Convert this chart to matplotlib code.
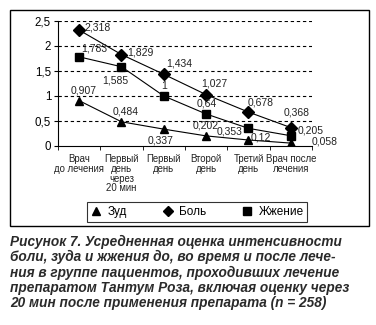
import matplotlib.pyplot as plt
from matplotlib.lines import Line2D
from matplotlib.patches import Rectangle

# timepoints of assessment
stages = ["Врач\nдо лечения", "Первый\nдень\nчерез\n20 мин", "Первый\nдень",
          "Второй\nдень", "Третий\nдень", "Врач после\nлечения"]
itch = [0.907, 0.484, 0.337, 0.202, 0.12, 0.058]      # Зуд
pain = [2.318, 1.829, 1.434, 1.027, 0.678, 0.368]     # Боль
burn = [1.783, 1.585, 1, 0.64, 0.353, 0.205]          # Жжение

# label offsets in pixels (dx, dy) for each point
itch_off = [(4, 10), (4, 10), (-3, -11), (0, 10), (12, 3), (34, 2)]
pain_off = [(18, 3), (19, 2), (15, 11), (8, 11), (12, 10), (6, 15)]
burn_off = [(15, 8), (-6, -14), (0, 10), (1, 10), (-19, -3), (20, 5)]

plt.rcParams['font.family'] = ['Liberation Sans', 'DejaVu Sans']

W, H = 376, 325
fig = plt.figure(figsize=(W / 100, H / 100), dpi=100)

# outer frame
fig.patches.append(Rectangle((10 / W, 1 - 226 / H), 359 / W, 216 / H,
                             transform=fig.transFigure, fill=False,
                             edgecolor='black', linewidth=1.0))

ax = fig.add_axes([58 / W, 1 - 146 / H, 254 / W, 125 / H])
x = list(range(len(stages)))

ax.plot(x, pain, color='black', lw=0.8, marker='D', ms=6.3, zorder=3)
ax.plot(x, burn, color='black', lw=0.8, marker='s', ms=6.3, zorder=3)
ax.plot(x, itch, color='black', lw=0.8, marker='^', ms=6.3, zorder=3)

def fmt(v):
    return f"{v:g}".replace(".", ",")

for vals, offs in [(itch, itch_off), (pain, pain_off), (burn, burn_off)]:
    for xi, v, (dx, dy) in zip(x, vals, offs):
        ax.annotate(fmt(v), (xi, v), xytext=(dx, dy), textcoords='offset pixels',
                    ha='center', va='center', fontsize=7.5, color='#222222')

ax.set_xlim(-0.5, 5.5)
ax.set_ylim(0, 2.5)
ax.set_yticks([0, 0.5, 1, 1.5, 2, 2.5])
ax.set_yticklabels(["0", "0,5", "1", "1,5", "2", "2,5"], fontsize=8.3)
for g in [0.5, 1, 1.5, 2, 2.5]:
    ax.axhline(g, color='black', lw=0.8, ls=(0, (3, 2.5)), zorder=1)

ax.set_xticks(x)
ax.set_xticklabels(stages, fontsize=6.9, linespacing=0.95, color='#222222')
ax.tick_params(axis='x', length=0, pad=6)
ax.set_xticks([i - 0.5 for i in range(len(stages) + 1)], minor=True)
ax.tick_params(axis='x', which='minor', length=3, direction='out')
ax.tick_params(axis='y', length=3, direction='out', pad=2)

for s in ['top', 'right']:
    ax.spines[s].set_visible(False)
for s in ['left', 'bottom']:
    ax.spines[s].set_linewidth(0.8)

handles = [Line2D([], [], color='black', marker='^', ls='none', ms=5.5),
           Line2D([], [], color='black', marker='D', ls='none', ms=5.5),
           Line2D([], [], color='black', marker='s', ls='none', ms=5.5)]
leg = fig.legend(handles, ["Зуд", "Боль", "Жжение"], ncol=3,
                 loc='center', bbox_to_anchor=(197 / W, 1 - 212 / H),
                 fontsize=8.5, frameon=True, fancybox=False, edgecolor='black',
                 borderpad=0.3, handletextpad=0.5, columnspacing=2.9,
                 handlelength=1.0)
leg.get_frame().set_linewidth(0.8)

caption = ("Рисунок 7. Усредненная оценка интенсивности\n"
           "боли, зуда и жжения до, во время и после лече-\n"
           "ния в группе пациентов, проходивших лечение\n"
           "препаратом Тантум Роза, включая оценку через\n"
           "20 мин после применения препарата (n = 258)")
fig.text(10 / W, 1 - 235 / H, caption, ha='left', va='top', fontsize=9.8,
         fontweight='bold', fontstyle='italic', color='#2a2a2a', linespacing=1.1)

fig.savefig("out.png", dpi=100)
